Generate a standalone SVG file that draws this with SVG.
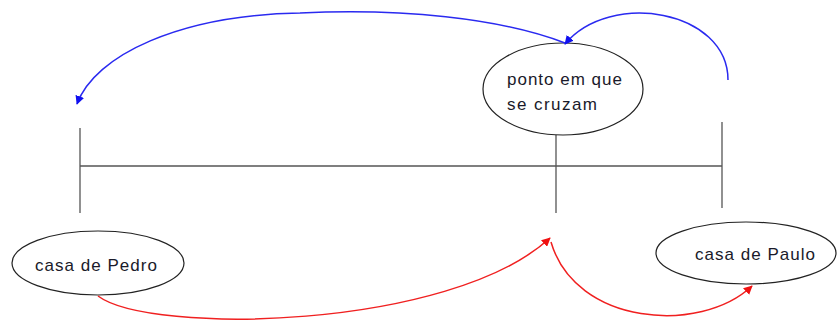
<svg xmlns="http://www.w3.org/2000/svg" width="837" height="325" viewBox="0 0 837 325">
<style>
.node ellipse{fill:#fff;stroke:#222;stroke-width:1.2}
.node text{font-family:"Liberation Sans",Arial,sans-serif;font-size:17px;fill:#1a1a2a}
.axis line{stroke:#555;stroke-width:1.3}
.blue{fill:none;stroke:#2a2af0;stroke-width:1.5}
.red{fill:none;stroke:#f02020;stroke-width:1.5}
</style>
<defs>
<marker id="ab" viewBox="0 0 10 10" refX="9" refY="5" markerWidth="9" markerHeight="9" markerUnits="userSpaceOnUse" orient="auto"><path d="M0,0 L10,5 L0,10 z" fill="#1010f0"/></marker>
<marker id="ar" viewBox="0 0 10 10" refX="9" refY="5" markerWidth="9" markerHeight="9" markerUnits="userSpaceOnUse" orient="auto"><path d="M0,0 L10,5 L0,10 z" fill="#f01010"/></marker>
</defs>
<g id="axis" class="axis">
<line x1="80" y1="166" x2="722" y2="166"/>
<line x1="80" y1="128" x2="80" y2="213"/>
<line x1="556" y1="135" x2="556" y2="213"/>
<line x1="722" y1="122" x2="722" y2="208"/>
</g>
<g id="n_cruzam" class="node">
<ellipse cx="563" cy="89" rx="80" ry="46"/>
<text x="507" y="85" textLength="115" lengthAdjust="spacing">ponto em que</text>
<text x="507" y="110" textLength="90" lengthAdjust="spacing">se cruzam</text>
</g>
<g id="n_pedro" class="node">
<ellipse cx="98" cy="263" rx="86" ry="32"/>
<text x="35" y="271" textLength="122" lengthAdjust="spacing">casa de Pedro</text>
</g>
<g id="n_paulo" class="node">
<ellipse cx="746" cy="253" rx="90" ry="31"/>
<text x="695" y="260" textLength="120" lengthAdjust="spacing">casa de Paulo</text>
</g>
<g id="connectors">
<path class="blue" d="M728,80 C728,10 610,-10 565,44" marker-end="url(#ab)"/>
<path class="blue" d="M565,43 C500,18 400,8 300,13 C180,15 95,55 77,104" marker-end="url(#ab)"/>
<path class="red" d="M98,296 C150,335 450,330 550,238" marker-end="url(#ar)"/>
<path class="red" d="M551,242 C575,325 700,335 752,286" marker-end="url(#ar)"/>
</g>
</svg>
